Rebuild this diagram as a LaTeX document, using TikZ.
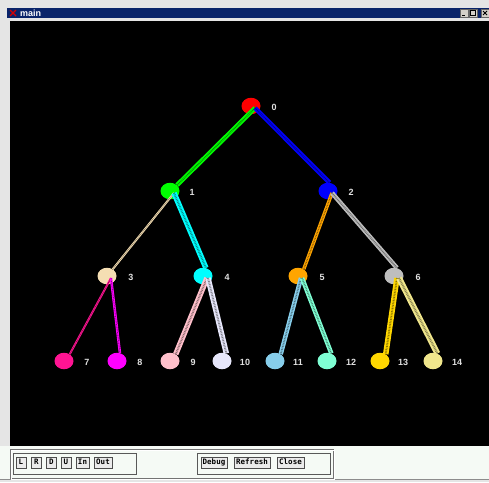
\documentclass[tikz,border=0pt]{standalone}
\usepackage{fontspec}
\setmainfont{Liberation Sans}
\setmonofont{DejaVu Sans Mono}
\usetikzlibrary{shapes.geometric}
\definecolor{winblue}{HTML}{0A246A}
\definecolor{wingray}{HTML}{D4D0C8}
\definecolor{panel}{HTML}{F5FAF5}
\definecolor{cRed}{HTML}{FF0000}
\definecolor{cLime}{HTML}{00FF00}
\definecolor{cBlue}{HTML}{0000FF}
\definecolor{cWheat}{HTML}{F5DEB3}
\definecolor{cCyan}{HTML}{00FFFF}
\definecolor{cOrange}{HTML}{FFA500}
\definecolor{cGray}{HTML}{BEBEBE}
\definecolor{cDeepPink}{HTML}{FF1493}
\definecolor{cMagenta}{HTML}{FF00FF}
\definecolor{cPink}{HTML}{FFC0CB}
\definecolor{cLavender}{HTML}{E6E6FA}
\definecolor{cSky}{HTML}{87CEEB}
\definecolor{cAqua}{HTML}{7FFFD4}
\definecolor{cGold}{HTML}{FFD700}
\definecolor{cKhaki}{HTML}{F0E68C}

\begin{document}
\begin{tikzpicture}[x=1pt,y=-1pt,
 vtx/.style={ellipse,minimum width=19pt,minimum height=16.5pt,inner sep=0pt},
 num/.style={text=white!88!black,font=\bfseries\fontsize{9}{10}\selectfont,inner sep=0pt},
 link/.style={line width=#1,postaction={draw=black,line width=.35*#1,dash pattern=on .8pt off .8pt,opacity=.45}},
 btn/.style={draw=black!70,fill=black!8,font=\ttfamily\bfseries\fontsize{7.5}{8}\selectfont,minimum width=10pt,text height=5.6pt,text depth=1.4pt,inner xsep=2pt,inner ysep=2pt},
 tbtn/.style={draw=black!60,fill=wingray,minimum width=8pt,minimum height=7.5pt,inner sep=0pt}]
\useasboundingbox (0,0) rectangle (489,482);
% window frame
\fill[black!10] (0,0) rectangle (489,482);
\fill[panel] (0,446) rectangle (489,479);
\draw[black!45] (0,479.5) -- (489,479.5);
\fill[winblue] (7,8) rectangle (489,17.5);
\draw[red!85!black,line width=1.4pt] (10,10) -- (16,16) (16,10) -- (10,16);
\node[anchor=west,text=white,font=\bfseries\fontsize{9}{10}\selectfont,inner sep=0pt] (ttl) at (20,12.8) {main};
\node[tbtn] (bmin) at (464,13) {};
\node[tbtn] (bmax) at (473,13) {};
\node[tbtn] (bcls) at (485,13) {};
\draw[line width=1pt] ([xshift=-2pt,yshift=-2pt]bmin.center) -- ++(3,0);
\draw[line width=.8pt] ([shift={(-2.5,-2.5)}]bmax.center) rectangle ([shift={(2.5,2.5)}]bmax.center);
\draw[line width=1pt] ([shift={(-2,-2)}]bcls.center) -- ([shift={(2,2)}]bcls.center) ([shift={(-2,2)}]bcls.center) -- ([shift={(2,-2)}]bcls.center);
% canvas
\fill[black] (10,21) rectangle (489,446);

% vertices
\node[vtx,fill=cRed] (n0) at (251,106) {};
\node[vtx,fill=cLime] (n1) at (170,191) {};
\node[vtx,fill=cBlue] (n2) at (328,191) {};
\node[vtx,fill=cWheat] (n3) at (107,276) {};
\node[vtx,fill=cCyan] (n4) at (203,276) {};
\node[vtx,fill=cOrange] (n5) at (298,276) {};
\node[vtx,fill=cGray] (n6) at (394,276) {};
\node[vtx,fill=cDeepPink] (n7) at (64,361) {};
\node[vtx,fill=cMagenta] (n8) at (117,361) {};
\node[vtx,fill=cPink] (n9) at (170,361) {};
\node[vtx,fill=cLavender] (n10) at (222,361) {};
\node[vtx,fill=cSky] (n11) at (275,361) {};
\node[vtx,fill=cAqua] (n12) at (327,361) {};
\node[vtx,fill=cGold] (n13) at (380,361) {};
\node[vtx,fill=cKhaki] (n14) at (433,361) {};

% numbers
\node[num] (t0) at (274,107) {0};
\node[num] (t1) at (192,192) {1};
\node[num] (t2) at (351,192) {2};
\node[num] (t3) at (131,277) {3};
\node[num] (t4) at (227,277) {4};
\node[num] (t5) at (322,277) {5};
\node[num] (t6) at (418,277) {6};
\node[num] (t7) at (87,362) {7};
\node[num] (t8) at (140,362) {8};
\node[num] (t9) at (193,362) {9};
\node[num] (t10) at (245,362) {10};
\node[num] (t11) at (298,362) {11};
\node[num] (t12) at (351,362) {12};
\node[num] (t13) at (403,362) {13};
\node[num] (t14) at (457,362) {14};

% links
\draw[link=4.5pt,cLime] ([shift={(4,2)}]n0.center) -- (n1.40);
\draw[link=4.5pt,cBlue] ([shift={(4,2)}]n0.center) -- (n2.80);
\draw[link=2pt,cWheat] ([shift={(4,2)}]n1.center) -- (n3.50);
\draw[link=5.5pt,cCyan] ([shift={(4,2)}]n1.center) -- (n4.70);
\draw[link=3.5pt,cOrange] ([shift={(4,2)}]n2.center) -- (n5.50);
\draw[link=4.5pt,cGray] ([shift={(4,2)}]n2.center) -- (n6.70);
\draw[link=2pt,cDeepPink] ([shift={(4,2)}]n3.center) -- (n7.50);
\draw[link=2.5pt,cMagenta] ([shift={(4,2)}]n3.center) -- (n8.70);
\draw[link=5.5pt,cPink] ([shift={(4,2)}]n4.center) -- (n9.50);
\draw[link=5.5pt,cLavender] ([shift={(5,2)}]n4.center) -- (n10.60);
\draw[link=4.5pt,cSky] ([shift={(3,2)}]n5.center) -- (n11.50);
\draw[link=4.5pt,cAqua] ([shift={(4,2)}]n5.center) -- (n12.60);
\draw[link=5.5pt,cGold] ([shift={(3,2)}]n6.center) -- (n13.50);
\draw[link=6pt,cKhaki] ([shift={(5,2)}]n6.center) -- (n14.60);

% control panel
\draw[black!55] (10,449) rectangle (333,478);
\draw[white] (11,450) rectangle (334,479);
\draw[black!65,line width=.8pt] (13.5,453.5) rectangle (136,474);
\draw[black!65,line width=.8pt] (197.5,453.5) rectangle (330,474);
\node[btn] (bL) at (21,462.5) {L};
\node[btn] (bR) at (36.5,462.5) {R};
\node[btn] (bD) at (51.5,462.5) {D};
\node[btn] (bU) at (66,462.5) {U};
\node[btn] (bIn) at (82.5,462.5) {In};
\node[btn] (bOut) at (103,462.5) {Out};
\node[btn] (bDebug) at (214,462.5) {Debug};
\node[btn] (bRefresh) at (252,462.5) {Refresh};
\node[btn] (bClose) at (290.5,462.5) {Close};
\end{tikzpicture}
\end{document}
